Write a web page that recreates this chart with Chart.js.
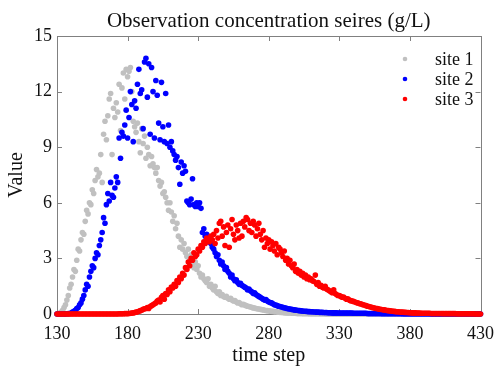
<!DOCTYPE html>
<html>
<head>
<meta charset="utf-8">
<script src="https://cdn.jsdelivr.net/npm/chart.js@4"></script>
<style>
  html, body { margin: 0; padding: 0; background: #fff; }
  #wrap { width: 503px; height: 366px; }
</style>
</head>
<body>
<div id="wrap"><canvas id="obsChart" width="503" height="366"></canvas></div>
<script>
const firstStep = 130;
const xTicks = [130, 180, 230, 280, 330, 380, 430];
const yTicks = [0, 3, 6, 9, 12, 15];
const seriesNames = ['site 1', 'site 2', 'site 3'];

// one value per time step, 130 .. 430
const site1 = [
  0, 0.02, 0.05, 0.1, 0.2, 0.35, 0.5, 0.75, 1.0, 1.4,
  1.6, 2.0, 2.4, 2.3, 2.9, 3.5, 3.4, 4.0, 4.4, 4.3,
  5.0, 5.6, 5.4, 6.0, 5.9, 6.7, 6.5, 7.2, 7.8, 7.4,
  7.6, 8.6, 7.1, 9.7, 10.4, 9.4, 10.7, 11.6, 11.9, 8.6,
  11.1, 10.6, 11.4, 10.9, 12.4, 9.9, 12.2, 13.0, 11.6, 13.2,
  12.8, 13.1, 13.3, 12.0, 10.4, 10.1, 9.8, 10.3, 9.3, 8.7,
  10.0, 9.2, 9.6, 8.4, 9.0, 8.6, 8.0, 8.5, 8.1, 7.9,
  7.6, 7.9, 7.2, 6.9, 7.1, 6.5, 6.6, 6.3, 6.0, 5.6,
  6.0, 5.5, 5.0, 5.3, 4.6, 4.9, 4.2, 3.6, 4.0, 3.5,
  3.8, 3.3, 3.1, 3.5, 2.9, 3.2, 2.7, 2.5, 2.8, 2.4,
  2.6, 2.2, 2.0, 2.1, 1.9, 1.8, 1.7, 1.9, 1.5, 1.6,
  1.4, 1.3, 1.5, 1.2, 1.1, 1.2, 1.0, 1.05, 0.95, 0.9,
  0.95, 0.85, 0.8, 0.85, 0.75, 0.7, 0.72, 0.65, 0.6, 0.62,
  0.55, 0.5, 0.52, 0.48, 0.45, 0.42, 0.4, 0.38, 0.36, 0.33,
  0.32, 0.3, 0.28, 0.27, 0.25, 0.24, 0.22, 0.2, 0.19, 0.18,
  0.17, 0.16, 0.15, 0.14, 0.13, 0.12, 0.11, 0.1, 0.09, 0.09,
  0.08, 0.07, 0.07, 0.06, 0.06, 0.05, 0.05, 0.04, 0.04, 0.04,
  0.03, 0.03, 0.03, 0.03, 0.02, 0.02, 0.02, 0.02, 0.02, 0.01,
  0.01, 0.01, 0.01, 0.01, 0.01, 0.01, 0.01, 0.01, 0.01, 0.01,
  0, 0, 0, 0, 0, 0, 0, 0, 0, 0,
  0, 0, 0, 0, 0, 0, 0, 0, 0, 0,
  0, 0, 0, 0, 0, 0, 0, 0, 0, 0,
  0, 0, 0, 0, 0, 0, 0, 0, 0, 0,
  0, 0, 0, 0, 0, 0, 0, 0, 0, 0,
  0, 0, 0, 0, 0, 0, 0, 0, 0, 0,
  0, 0, 0, 0, 0, 0, 0, 0, 0, 0,
  0, 0, 0, 0, 0, 0, 0, 0, 0, 0,
  0, 0, 0, 0, 0, 0, 0, 0, 0, 0,
  0, 0, 0, 0, 0, 0, 0, 0, 0, 0,
  0, 0, 0, 0, 0, 0, 0, 0, 0, 0,
  0
];

const site2 = [
  0, 0, 0, 0, 0, 0, 0, 0.01, 0.02, 0.03,
  0.05, 0.1, 0.15, 0.2, 0.3, 0.35, 0.5, 0.6, 0.8, 1.0,
  1.3, 1.6, 1.5, 2.0, 2.3, 2.6, 2.5, 3.0, 3.3, 3.2,
  3.7, 4.0, 4.4, 5.2, 4.9, 5.9, 6.5, 6.1, 7.1, 6.4,
  6.3, 6.8, 7.4, 7.1, 9.5, 8.4, 9.8, 9.6, 10.2, 11.0,
  9.5, 10.6, 12.0, 11.3, 9.3, 11.5, 11.1, 12.4, 13.2, 11.9,
  12.1, 10.0, 13.6, 13.8, 11.7, 13.5, 9.7, 13.3, 12.0, 9.5,
  12.6, 11.8, 10.3, 9.4, 12.5, 10.1, 9.3, 11.9, 9.2, 10.2,
  9.0, 9.3, 8.8, 8.6, 8.3, 8.5, 7.9, 7.0, 8.2, 7.6,
  8.0, 7.7, 6.1, 6.0, 5.9, 6.2, 7.3, 5.9, 5.8, 6.0,
  5.8, 6.0, 5.7, 4.4, 4.6, 4.2, 4.3, 3.9, 4.1, 3.8,
  3.6, 3.5, 3.3, 3.1, 3.2, 2.9, 2.7, 2.8, 2.6, 2.4,
  2.5, 2.3, 2.2, 2.0, 2.1, 1.9, 1.8, 1.85, 1.7, 1.6,
  1.65, 1.55, 1.5, 1.45, 1.4, 1.3, 1.35, 1.25, 1.2, 1.1,
  1.15, 1.05, 1.0, 0.95, 0.9, 0.85, 0.8, 0.75, 0.78, 0.7,
  0.65, 0.62, 0.6, 0.55, 0.5, 0.48, 0.45, 0.42, 0.4, 0.38,
  0.36, 0.34, 0.32, 0.3, 0.28, 0.27, 0.25, 0.24, 0.22, 0.21,
  0.2, 0.19, 0.18, 0.17, 0.16, 0.15, 0.15, 0.14, 0.13, 0.13,
  0.12, 0.12, 0.11, 0.11, 0.1, 0.1, 0.09, 0.09, 0.09, 0.08,
  0.08, 0.08, 0.07, 0.07, 0.07, 0.06, 0.06, 0.06, 0.06, 0.05,
  0.05, 0.05, 0.05, 0.05, 0.05, 0.05, 0.05, 0.05, 0.05, 0.05,
  0.04, 0.04, 0.04, 0.04, 0.04, 0.04, 0.04, 0.04, 0.04, 0.04,
  0.03, 0.03, 0.03, 0.03, 0.03, 0.03, 0.03, 0.03, 0.03, 0.03,
  0.02, 0.02, 0.02, 0.02, 0.02, 0.02, 0.02, 0.02, 0.02, 0.02,
  0.02, 0.02, 0.02, 0.02, 0.02, 0.01, 0.01, 0.01, 0.01, 0.01,
  0.01, 0.01, 0.01, 0.01, 0.01, 0.01, 0.01, 0.01, 0.01, 0.01,
  0.01, 0.01, 0.01, 0.01, 0.01, 0, 0, 0, 0, 0,
  0, 0, 0, 0, 0, 0, 0, 0, 0, 0,
  0, 0, 0, 0, 0, 0, 0, 0, 0, 0,
  0, 0, 0, 0, 0, 0, 0, 0, 0, 0,
  0
];

const site3 = [
  0, 0, 0, 0, 0, 0, 0, 0, 0, 0,
  0, 0, 0, 0, 0, 0, 0, 0, 0, 0,
  0, 0, 0, 0, 0, 0, 0, 0, 0, 0,
  0, 0, 0, 0, 0, 0, 0, 0, 0, 0,
  0, 0, 0, 0, 0.01, 0.01, 0.01, 0.01, 0.02, 0.02,
  0.02, 0.03, 0.04, 0.05, 0.06, 0.08, 0.1, 0.12, 0.15, 0.18,
  0.2, 0.25, 0.28, 0.3, 0.35, 0.3, 0.4, 0.45, 0.5, 0.55,
  0.6, 0.7, 0.75, 0.65, 0.9, 1.0, 0.8, 1.1, 1.05, 1.3,
  1.2, 1.45, 1.4, 1.6, 1.5, 1.8, 1.7, 2.0, 1.9, 2.2,
  2.1, 2.5, 2.4, 2.8, 2.6, 3.0, 2.9, 3.3, 3.1, 3.2,
  3.5, 3.4, 3.7, 3.6, 3.9, 3.8, 4.1, 4.0, 3.9, 4.2,
  4.0, 4.3, 3.8, 4.5, 4.1, 4.9, 5.0, 4.2, 4.7, 3.7,
  4.4, 4.8, 3.6, 4.6, 5.1, 4.3, 4.0, 4.8, 4.5, 4.1,
  4.9, 4.2, 5.0, 4.7, 5.2, 5.1, 4.5, 4.9, 4.4, 5.0,
  4.8, 4.2, 4.6, 4.9, 4.3, 4.0, 4.5, 3.6, 4.1, 3.8,
  4.0, 3.5, 3.9, 3.7, 3.4, 3.8, 3.2, 3.6, 3.5, 3.3,
  3.1, 3.4, 2.9, 3.0, 2.7, 2.9, 2.6, 2.5, 2.7, 2.3,
  2.4, 2.2, 2.3, 2.1, 2.2, 2.0, 2.1, 1.9, 2.0, 1.85,
  1.9, 1.8, 1.75, 2.1, 1.6, 1.7, 1.5, 1.55, 1.45, 1.4,
  1.5, 1.35, 1.3, 1.25, 1.2, 1.15, 1.3, 1.1, 1.05, 1.0,
  1.0, 0.95, 0.9, 0.92, 0.85, 0.8, 0.82, 0.75, 0.72, 0.7,
  0.68, 0.65, 0.62, 0.6, 0.56, 0.55, 0.52, 0.5, 0.47, 0.45,
  0.42, 0.4, 0.38, 0.36, 0.34, 0.32, 0.3, 0.29, 0.27, 0.26,
  0.24, 0.23, 0.22, 0.2, 0.19, 0.18, 0.17, 0.16, 0.15, 0.14,
  0.13, 0.12, 0.12, 0.11, 0.1, 0.1, 0.09, 0.09, 0.08, 0.08,
  0.07, 0.07, 0.06, 0.06, 0.06, 0.05, 0.05, 0.05, 0.04, 0.04,
  0.04, 0.04, 0.04, 0.04, 0.04, 0.03, 0.03, 0.03, 0.03, 0.03,
  0.03, 0.03, 0.03, 0.02, 0.02, 0.02, 0.02, 0.02, 0.02, 0.02,
  0.02, 0.02, 0.02, 0.01, 0.01, 0.01, 0.01, 0.01, 0.01, 0.01,
  0.01, 0.01, 0.01, 0.01, 0.01, 0.01, 0, 0, 0, 0,
  0
];

const colors = ['#c0c0c0', '#0000ff', '#ff0000'];
const serif = "'Liberation Serif', 'Times New Roman', serif";

function toPoints(values) {
  return values.map((v, i) => ({ x: firstStep + i, y: v }));
}

// box, inward ticks, titles and legend drawn around the chart area
const matlabFrame = {
  id: 'matlabFrame',
  beforeDatasetsDraw(chart) {
    const { ctx, chartArea: a, scales } = chart;
    ctx.save();
    ctx.strokeStyle = '#808080';
    ctx.lineWidth = 1;
    ctx.beginPath();
    ctx.rect(Math.round(a.left) + 0.5, Math.round(a.top) + 0.5,
      Math.round(a.right - a.left), Math.round(a.bottom - a.top));
    xTicks.forEach(t => {
      const px = Math.round(scales.x.getPixelForValue(t)) + 0.5;
      ctx.moveTo(px, a.bottom); ctx.lineTo(px, a.bottom - 5);
      ctx.moveTo(px, a.top); ctx.lineTo(px, a.top + 5);
    });
    yTicks.forEach(t => {
      const py = Math.round(scales.y.getPixelForValue(t)) + 0.5;
      ctx.moveTo(a.left, py); ctx.lineTo(a.left + 5, py);
      ctx.moveTo(a.right, py); ctx.lineTo(a.right - 5, py);
    });
    ctx.stroke();
    ctx.restore();
  },
  afterDraw(chart) {
    const { ctx, chartArea: a } = chart;
    const midX = (a.left + a.right) / 2;
    ctx.save();
    ctx.fillStyle = '#111';
    ctx.textAlign = 'center';
    ctx.textBaseline = 'middle';
    ctx.font = '21px ' + serif;
    ctx.fillText('Observation concentration seires (g/L)', midX, 21);
    ctx.font = '20px ' + serif;
    ctx.fillText('time step', midX, 356);

    ctx.font = '18px ' + serif;
    ctx.textAlign = 'left';
    seriesNames.forEach((name, i) => {
      const y = 59 + i * 20;
      ctx.fillStyle = colors[i];
      ctx.beginPath();
      ctx.arc(405, y, 2.3, 0, Math.PI * 2);
      ctx.fill();
      ctx.fillStyle = '#111';
      ctx.fillText(name, 435, y + 1);
    });
    ctx.restore();
  }
};

const ctx = document.getElementById('obsChart').getContext('2d');
new Chart(ctx, {
  type: 'scatter',
  data: {
    datasets: [
      { label: seriesNames[0], data: toPoints(site1), backgroundColor: colors[0], order: 2 },
      { label: seriesNames[1], data: toPoints(site2), backgroundColor: colors[1], order: 1 },
      { label: seriesNames[2], data: toPoints(site3), backgroundColor: colors[2], order: 0 }
    ]
  },
  options: {
    responsive: false,
    animation: false,
    devicePixelRatio: 1,
    layout: { padding: { top: 36, right: 17, left: 0, bottom: 0 } },
    elements: {
      point: { radius: 2.8, borderWidth: 0, hoverRadius: 2.8 }
    },
    datasets: { scatter: { clip: false } },
    plugins: {
      legend: { display: false },
      title: { display: false },
      tooltip: { enabled: false }
    },
    scales: {
      x: {
        type: 'linear',
        min: 130,
        max: 430,
        afterFit: s => { s.height = 52; },
        afterBuildTicks: s => { s.ticks = xTicks.map(v => ({ value: v })); },
        grid: { display: false, drawTicks: false },
        border: { display: false },
        ticks: { color: '#111', font: { family: serif, size: 18 }, padding: 9, maxRotation: 0 },
        title: { display: false }
      },
      y: {
        min: 0,
        max: 15,
        afterFit: s => { s.width = 57; },
        afterBuildTicks: s => { s.ticks = yTicks.map(v => ({ value: v })); },
        grid: { display: false, drawTicks: false },
        border: { display: false },
        ticks: { color: '#111', font: { family: serif, size: 18 }, padding: 5 },
        title: { display: true, text: 'Value', color: '#111', font: { family: serif, size: 20 }, padding: { top: 5, bottom: 0 } }
      }
    }
  },
  plugins: [matlabFrame]
});
</script>
</body>
</html>
